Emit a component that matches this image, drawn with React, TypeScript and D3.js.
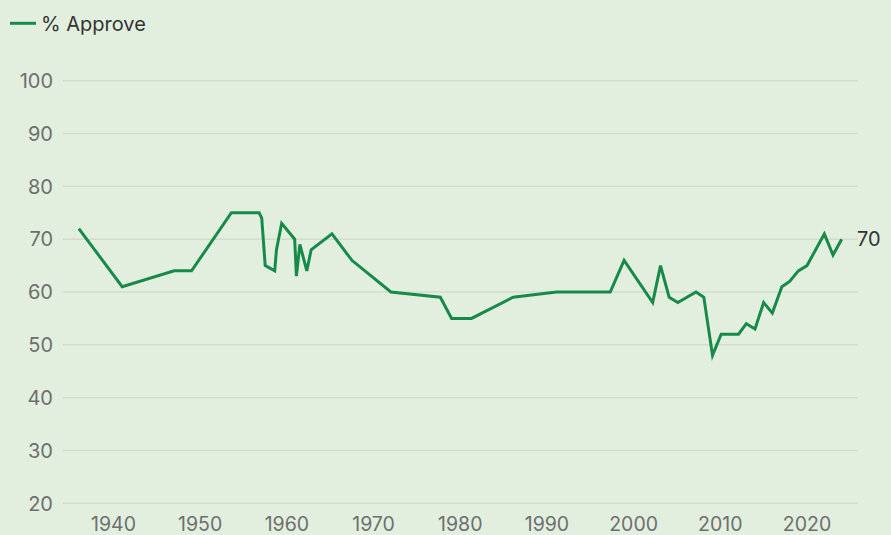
import React from "react";
import * as d3 from "d3";

const years = [
  1936, 1941, 1947, 1949, 1953.6, 1956.8, 1957.1, 1957.5, 1958.6, 1958.8, 1959.4,
  1960.9, 1961.1, 1961.5, 1962.3, 1962.8, 1965.2, 1967.5, 1972, 1977.7, 1979,
  1981.3, 1986.1, 1991.1, 1997.3, 1998.9, 2002.2, 2003.1, 2004.1, 2005.1, 2007.2,
  2008.1, 2009.1, 2010.1, 2012.1, 2013, 2014, 2015, 2016, 2017.1, 2018, 2019,
  2020, 2021, 2022, 2023, 2024,
];
const approve = [
  72, 61, 64, 64, 75, 75, 74, 65, 64, 68, 73,
  70, 63, 69, 64, 68, 71, 66, 60, 59, 55,
  55, 59, 60, 60, 66, 58, 65, 59, 58, 60,
  59, 48, 52, 52, 54, 53, 58, 56, 61, 62, 64,
  65, 68, 71, 67, 70,
];
const yTicks = [20, 30, 40, 50, 60, 70, 80, 90, 100];
const xTicks = [1940, 1950, 1960, 1970, 1980, 1990, 2000, 2010, 2020];
const seriesName = "% Approve";

const W = 891;
const H = 535;
const BG = "#e2efdf";
const GREEN = "#178a4a";
const GRID = "#d2dccd";
const TICK = "#6e6e6e";
const FONT = "Inter, 'Liberation Sans', Arial, sans-serif";

export default function App() {
  const x = d3.scaleLinear().domain([1940, 2020]).range([113.5, 807]);
  const y = d3.scaleLinear().domain([20, 100]).range([503.3, 80.7]);
  const data = years.map((yr, i) => ({ yr, v: approve[i] }));
  const line = d3
    .line<{ yr: number; v: number }>()
    .x((d) => x(d.yr))
    .y((d) => y(d.v));
  const last = data[data.length - 1];

  return (
    <svg
      width={W}
      height={H}
      style={{ position: "absolute", left: 0, top: 0, display: "block" }}
      fontFamily={FONT}
    >
      <rect width={W} height={H} fill={BG} />
      {yTicks.map((t) => (
        <g key={t}>
          <line x1={63} x2={858} y1={y(t)} y2={y(t)} stroke={GRID} strokeWidth={1.5} />
          <text x={53} y={y(t)} dy="0.36em" textAnchor="end" fontSize={20} fill={TICK}>
            {t}
          </text>
        </g>
      ))}
      {xTicks.map((t) => (
        <text key={t} x={x(t)} y={530.5} textAnchor="middle" fontSize={19.5} fill={TICK}>
          {t}
        </text>
      ))}
      <path
        d={line(data) || ""}
        fill="none"
        stroke={GREEN}
        strokeWidth={3}
        strokeLinejoin="miter"
        strokeLinecap="butt"
      />
      <text x={857} y={y(last.v)} dy="0.36em" fontSize={20} fill="#333">
        {last.v}
      </text>
      <line x1={10} x2={36} y1={23.3} y2={23.3} stroke={GREEN} strokeWidth={3} />
      <text x={41} y={23.3} dy="0.36em" fontSize={20} fill="#333">
        {seriesName}
      </text>
    </svg>
  );
}
